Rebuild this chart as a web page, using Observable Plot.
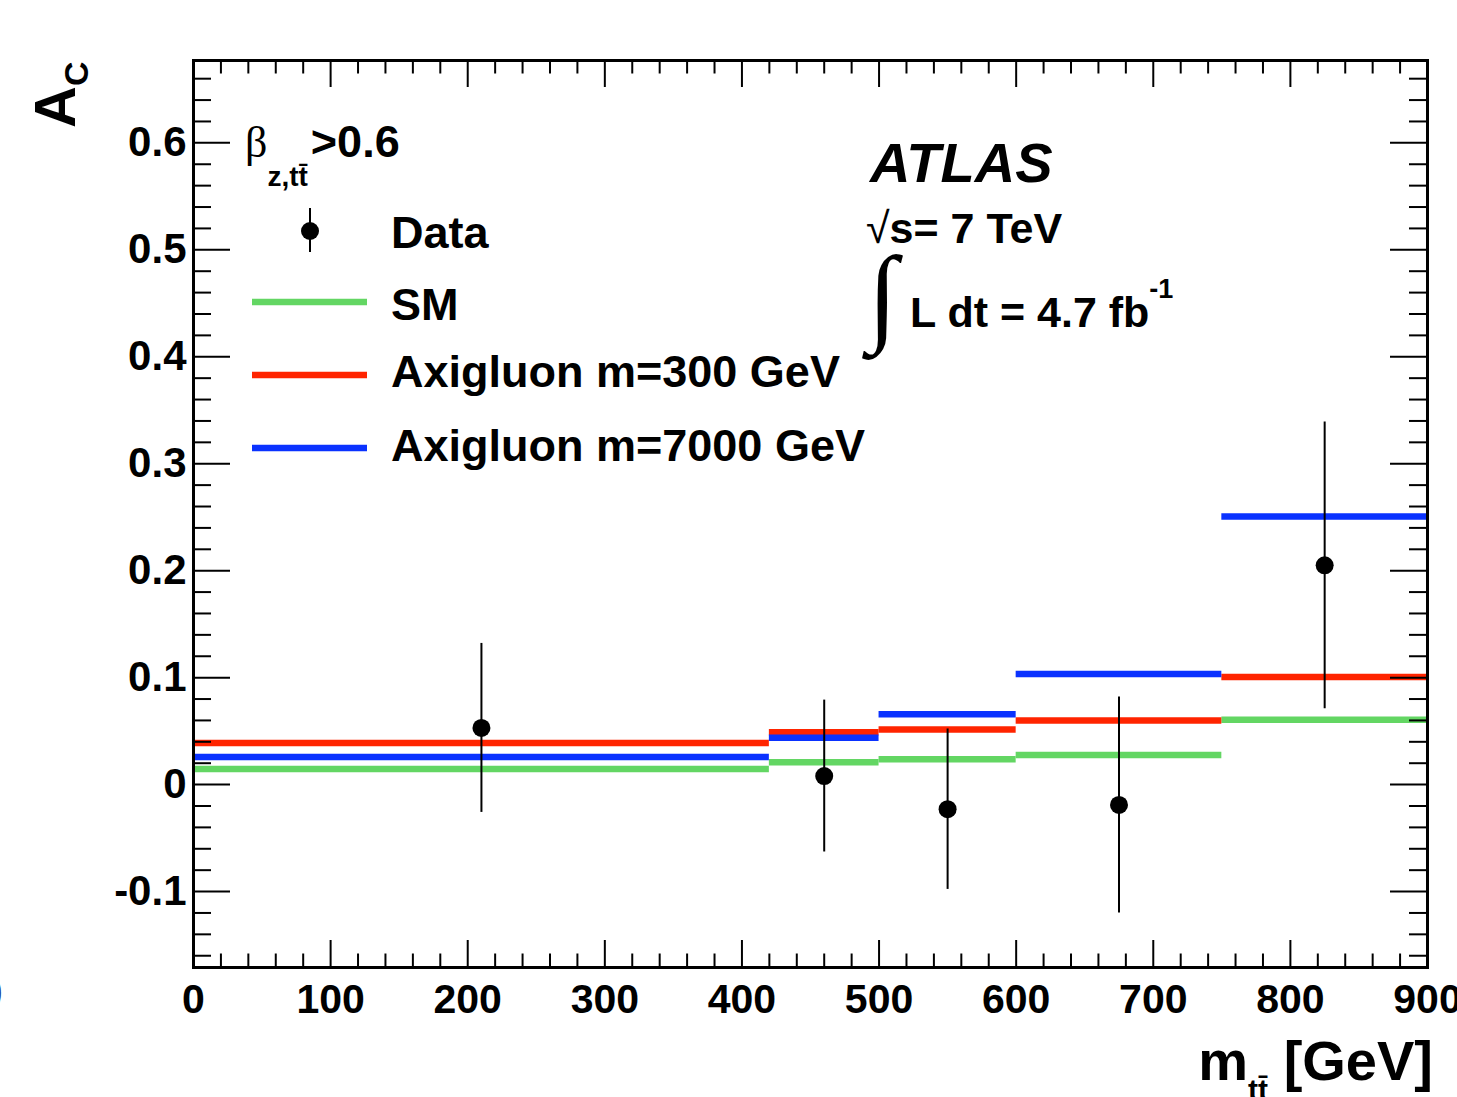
<!DOCTYPE html>
<html><head><meta charset="utf-8">
<script src="https://cdn.jsdelivr.net/npm/d3@7"></script>
<script src="https://cdn.jsdelivr.net/npm/@observablehq/plot@0.6"></script>
<style>html,body{margin:0;padding:0;background:#fff;overflow:hidden;width:1457px;height:1097px}</style>
</head><body><div id="chart"></div>
<script>
// ---- data ----
const binEdges = [0, 420, 500, 600, 750, 900];
const smValues = [0.0145, 0.0208, 0.0236, 0.0276, 0.0606];
const axi300Values = [0.0388, 0.0490, 0.0515, 0.0600, 0.1006];
const axi7000Values = [0.0257, 0.0438, 0.0658, 0.1035, 0.2507];
const dataX = [210, 460, 550, 675, 825];
const dataY = [0.053, 0.008, -0.023, -0.019, 0.205];
const dataErr = [0.079, 0.071, 0.075, 0.101, 0.134];
const xTickValues = [0, 100, 200, 300, 400, 500, 600, 700, 800, 900];
const xTickLabels = ["0", "100", "200", "300", "400", "500", "600", "700", "800", "900"];
const yTickValues = [-0.1, 0, 0.1, 0.2, 0.3, 0.4, 0.5, 0.6];
const yTickLabels = ["-0.1", "0", "0.1", "0.2", "0.3", "0.4", "0.5", "0.6"];
const legendLabels = ["Data", "SM", "Axigluon m=300 GeV", "Axigluon m=7000 GeV"];
const seriesColors = {sm: "#63d663", a300: "#ff2400", a7000: "#0a32ff"};

// ---- layout ----
const W = 1457, H = 1097;
const mL = 193, mR = 30, mT = 60, mB = 130;
const xMin = 0, xMax = 900, yMin = -0.171, yMax = 0.677;
const pxPerX = (W - mL - mR) / (xMax - xMin);
const pxPerY = (H - mT - mB) / (yMax - yMin);

const bins = smValues.map((v, i) => ({lo: binEdges[i], hi: binEdges[i + 1], sm: v, a300: axi300Values[i], a7000: axi7000Values[i]}));
const points = dataX.map((x, i) => ({x, y: dataY[i], lo: dataY[i] - dataErr[i], hi: dataY[i] + dataErr[i]}));

const xMinor = d3.range(0, 901, 20).filter(v => v % 100 !== 0);
const yMinor = d3.range(-16, 67, 2).filter(v => v % 10 !== 0).map(v => v / 100);

const tkX = 27 / pxPerY, tkXm = 13.5 / pxPerY;   // tick lengths of x axis (in y units)
const tkY = 37 / pxPerX, tkYm = 18 / pxPerX;     // tick lengths of y axis (in x units)

const font = "Liberation Sans, Arial, Helvetica, sans-serif";

const plot = Plot.plot({
  width: W, height: H,
  marginLeft: mL, marginRight: mR, marginTop: mT, marginBottom: mB,
  style: {fontFamily: font, background: "white", color: "black"},
  x: {domain: [xMin, xMax]},
  y: {domain: [yMin, yMax]},
  marks: [
    Plot.ruleY(bins, {x1: "lo", x2: "hi", y: "sm", stroke: seriesColors.sm, strokeWidth: 6.5}),
    Plot.ruleY(bins, {x1: "lo", x2: "hi", y: "a300", stroke: seriesColors.a300, strokeWidth: 6.5}),
    Plot.ruleY(bins, {x1: "lo", x2: "hi", y: "a7000", stroke: seriesColors.a7000, strokeWidth: 6.5}),
    Plot.ruleX(points, {x: "x", y1: "lo", y2: "hi", stroke: "black", strokeWidth: 2}),
    Plot.dot(points, {x: "x", y: "y", r: 9, fill: "black", stroke: null}),
    // ticks (inward, all four sides)
    Plot.ruleX(xTickValues, {x: d => d, y1: yMin, y2: yMin + tkX, stroke: "black", strokeWidth: 2}),
    Plot.ruleX(xTickValues, {x: d => d, y1: yMax, y2: yMax - tkX, stroke: "black", strokeWidth: 2}),
    Plot.ruleX(xMinor, {x: d => d, y1: yMin, y2: yMin + tkXm, stroke: "black", strokeWidth: 2}),
    Plot.ruleX(xMinor, {x: d => d, y1: yMax, y2: yMax - tkXm, stroke: "black", strokeWidth: 2}),
    Plot.ruleY(yTickValues, {y: d => d, x1: xMin, x2: xMin + tkY, stroke: "black", strokeWidth: 2}),
    Plot.ruleY(yTickValues, {y: d => d, x1: xMax, x2: xMax - tkY, stroke: "black", strokeWidth: 2}),
    Plot.ruleY(yMinor, {y: d => d, x1: xMin, x2: xMin + tkYm, stroke: "black", strokeWidth: 2}),
    Plot.ruleY(yMinor, {y: d => d, x1: xMax, x2: xMax - tkYm, stroke: "black", strokeWidth: 2}),
    Plot.axisX(xTickValues, {anchor: "bottom", tickSize: 0, tickPadding: 16, fontSize: 41, fontWeight: "bold",
      tickFormat: d => xTickLabels[xTickValues.indexOf(d)], label: null}),
    Plot.axisY(yTickValues, {anchor: "left", tickSize: 0, tickPadding: 7, fontSize: 42, fontWeight: "bold",
      tickFormat: d => yTickLabels[yTickValues.indexOf(d)], label: null}),
    Plot.frame({stroke: "black", strokeWidth: 3})
  ]
});
document.getElementById("chart").appendChild(plot);

// ---- annotations, titles, legend ----
const svg = d3.select(plot);
const ann = svg.append("g").attr("font-family", font).attr("font-weight", "bold").attr("fill", "black")
  .attr("text-anchor", "start");

// beta cut
const tb = ann.append("text").attr("x", 245).attr("y", 157).attr("font-size", 44);
tb.append("tspan").attr("font-family", "Liberation Serif, Times New Roman, serif").attr("font-weight", "normal").text("β");
tb.append("tspan").attr("font-size", 28).attr("dy", 29).text("z,tt\u0304");
tb.append("tspan").attr("font-size", 45).attr("dy", -29).attr("dx", 3).text(">0.6");

// ATLAS label
ann.append("text").attr("x", 870).attr("y", 182).attr("font-size", 56).attr("font-style", "italic").text("ATLAS");
const ts = ann.append("text").attr("x", 866).attr("y", 243).attr("font-size", 43);
ts.append("tspan").attr("font-weight", "normal").text("√");
ts.append("tspan").text("s= 7 TeV");
ann.append("text").attr("x", 868).attr("y", 331).attr("font-size", 108).attr("font-weight", "normal")
  .attr("font-family", "Liberation Serif, DejaVu Serif, serif").text("∫");
const tl = ann.append("text").attr("x", 910).attr("y", 327).attr("font-size", 43);
tl.append("tspan").text("L dt = 4.7 fb");
tl.append("tspan").attr("font-size", 27).attr("dy", -29).text("-1");

// axis titles
const ya = ann.append("text").attr("transform", "translate(75,128) rotate(-90)").attr("font-size", 58);
ya.append("tspan").text("A");
ya.append("tspan").attr("font-size", 34).attr("dy", 13).text("C");
const xa = ann.append("text").attr("x", 1433).attr("y", 1080).attr("font-size", 56).attr("text-anchor", "end");
xa.append("tspan").text("m");
xa.append("tspan").attr("font-size", 30).attr("dy", 20).text("tt\u0304");
xa.append("tspan").attr("dy", -20).text(" [GeV]");

// legend
const lg = ann.append("g");
lg.append("line").attr("x1", 310).attr("x2", 310).attr("y1", 208).attr("y2", 252).attr("stroke", "black").attr("stroke-width", 2);
lg.append("circle").attr("cx", 310).attr("cy", 231).attr("r", 9).attr("fill", "black");
const legY = [231, 302, 375, 448];
const legTextY = [248, 320, 387, 461];
const legColors = [null, seriesColors.sm, seriesColors.a300, seriesColors.a7000];
legendLabels.forEach((lab, i) => {
  if (legColors[i]) {
    lg.append("line").attr("x1", 252).attr("x2", 367).attr("y1", legY[i]).attr("y2", legY[i])
      .attr("stroke", legColors[i]).attr("stroke-width", 6.5);
  }
  lg.append("text").attr("x", 391).attr("y", legTextY[i]).attr("font-size", 45).text(lab);
});

// cropped neighbour glyph at the left edge
ann.append("text").attr("x", -10).attr("y", 1004).attr("font-size", 40).attr("font-weight", "normal")
  .attr("fill", "#27408b").text(")");
</script>
</body></html>
